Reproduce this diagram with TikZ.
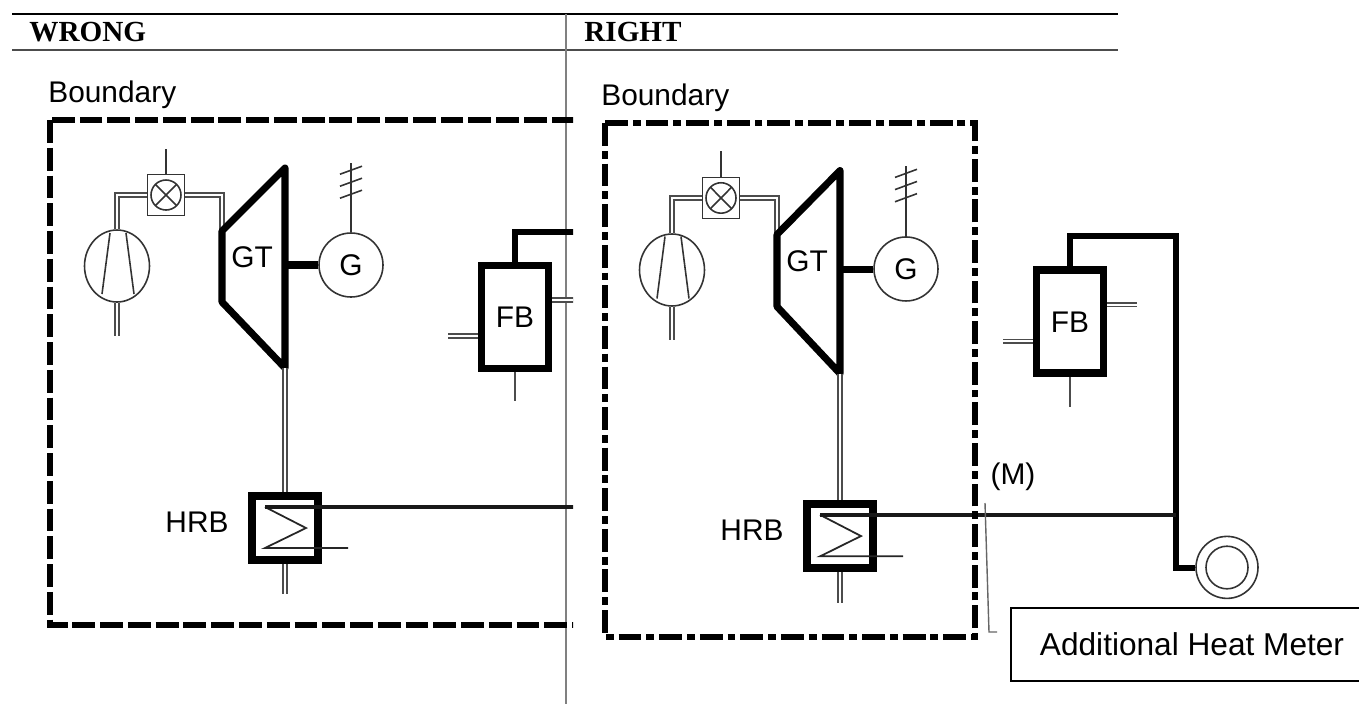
\documentclass[tikz,border=0pt]{standalone}
\usepackage{fontspec}
\setmainfont{Liberation Sans}
\newfontfamily\headfont{Liberation Serif}
\usetikzlibrary{calc, positioning, shapes.geometric}

\tikzset{
	dpipe/.style = {draw=black!70, double=white, double distance=1.1pt, line width=0.9pt},
	heavy/.style = {line width=4pt, line join=round},
	fbpipe/.style = {line width=3.4pt, line join=miter},
	outlet/.style = {draw=black!90, line width=1.9pt},
	thinpart/.style = {draw=black!80, line width=0.9pt},
	lbl/.style = {font=\fontsize{17}{20}\selectfont, inner sep=0pt},
	headtxt/.style = {font=\headfont\bfseries\fontsize{16.6}{19}\selectfont, inner sep=0pt, anchor=base west},
	bnd/.style = {line width=3.2pt},
}

\newcommand{\plantparts}{%
	\node[thinpart, ellipse, minimum width=1.3cm, minimum height=1.44cm, inner sep=0pt] (comp) at (117,266) {};
	\draw[thinpart] ($(comp.center)+(-7,-33)$) -- ($(comp.center)+(-15,28)$);
	\draw[thinpart] ($(comp.center)+(9,-33)$) -- ($(comp.center)+(17,28)$);
	\node[thinpart, minimum width=0.74cm, minimum height=0.82cm, inner sep=0pt] (valve) at (166,195) {};
	\draw[thinpart] (valve.center) circle[radius=15];
	\draw[thinpart] ($(valve.center)+(-10.6,-10.6)$) -- ($(valve.center)+(10.6,10.6)$);
	\draw[thinpart] ($(valve.center)+(-10.6,10.6)$) -- ($(valve.center)+(10.6,-10.6)$);
	\draw[thinpart] (valve.north) -- ++(0,-25);
	\coordinate (gtA) at (222,231);
	\coordinate (gtB) at (222,302);
	\coordinate (gtC) at (285,368);
	\coordinate (gtD) at (285,168);
	\draw[dpipe] (comp.south) -- ++(0,33);
	\draw[dpipe] (comp.north) |- (valve.west);
	\draw[dpipe] (valve.east) -| (gtA);
	\draw[heavy] (gtA) -- (gtD) -- (gtC) -- (gtB) -- cycle;
	\node[lbl] (gtl) at (252,257) {GT};
	\node[thinpart, lbl, circle, minimum size=1.28cm] (gen) at (351,265) {G};
	\draw[heavy] (gen.west) -- (gen.west -| gtC);
	\draw[thinpart] (gen.north) -- ++(0,-69) coordinate (ant);
	\foreach \t in {7,19,31}
		\draw[thinpart] ($(ant)+(-11,\t+4)$) -- ++(22,-8);
	\node[draw, line width=5pt, minimum width=1.32cm, minimum height=1.28cm, inner sep=0pt] (hrb) at (285,528) {};
	\node[lbl] (hrbl) at (197,522) {HRB};
	\draw[dpipe] (gtC) -- (hrb.north);
	\draw[dpipe] (hrb.south) -- ++(0,30);
	\coordinate (hrbout) at ($(hrb.center)+(-20,-21)$);
	\draw[draw=black!85, line width=1pt] ($(hrb.center)+(63,20)$) -- ++(-83,0) -- ($(hrb.center)+(21,0)$) -- (hrbout);
	\node[draw, lbl, line width=4.5pt, minimum width=1.34cm, minimum height=2.06cm] (fb) at (515,317) {FB};
	\draw[dpipe] ($(fb.west)+(0,19)$) -- ++(-30,0);
	\draw[dpipe] ($(fb.east)+(0,-17)$) -- ++(30,0);
	\draw[draw=black!70, line width=1pt] (fb.south) -- ++(0,29);
}

\begin{document}
\begin{tikzpicture}[x=0.02cm, y=-0.02cm]
	\useasboundingbox (0,0) rectangle (1359,704);
	\fill[white] (0,0) rectangle (1359,704);

	\draw[line width=0.8pt] (12,14) -- (1118,14);
	\draw[black!70, line width=0.8pt] (12,50) -- (1118,50);
	\draw[black!50, line width=0.6pt] (566,14) -- (566,704);
	\node[headtxt] (wrong) at (29,41) {WRONG};
	\node[headtxt] (right) at (584,41) {RIGHT};

	\begin{scope}
		\clip (0,0) rectangle (573,704);
		\plantparts
		\coordinate (cutA) at (600,232);
		\draw[fbpipe] (fb.north) |- (cutA);
		\draw[outlet] (hrbout) -- ++(400,0);
		\draw[bnd, dash pattern=on 13pt off 2.8pt] (50,120) rectangle (640,625);
		\node[lbl, anchor=base west] (bndl) at (48,102) {Boundary};
	\end{scope}

	\begin{scope}[shift={(555,0)}, yscale=1.015]
		\plantparts
		\node[thinpart, circle, minimum size=1.24cm, inner sep=0pt] (meter) at (672,559) {};
		\draw[thinpart] (meter.center) circle[radius=21];
		\coordinate (fbcorner) at (621,232);
		\draw[fbpipe] (fb.north) |- (fbcorner) |- (meter.west);
		\draw[outlet] (hrbout) -- (hrbout -| fbcorner);
	\end{scope}

	\draw[bnd, dash pattern=on 13pt off 2.8pt on 4.5pt off 2.8pt] (605,123) rectangle (975,637);
	\node[lbl, anchor=base west] (bndr) at (601,105) {Boundary};
	\node[lbl] (mlbl) at (1013,477) {(M)};
	\coordinate (mpt) at (985,503);
	\draw[black!60, line width=0.8pt] (mpt) -- (989,632) -- (997,632);
	\node[draw, lbl, font=\fontsize{18}{21}\selectfont, line width=1.2pt, minimum width=7.24cm, minimum height=1.46cm, anchor=north west] (note) at (1010,607) {Additional Heat Meter};
\end{tikzpicture}
\end{document}
